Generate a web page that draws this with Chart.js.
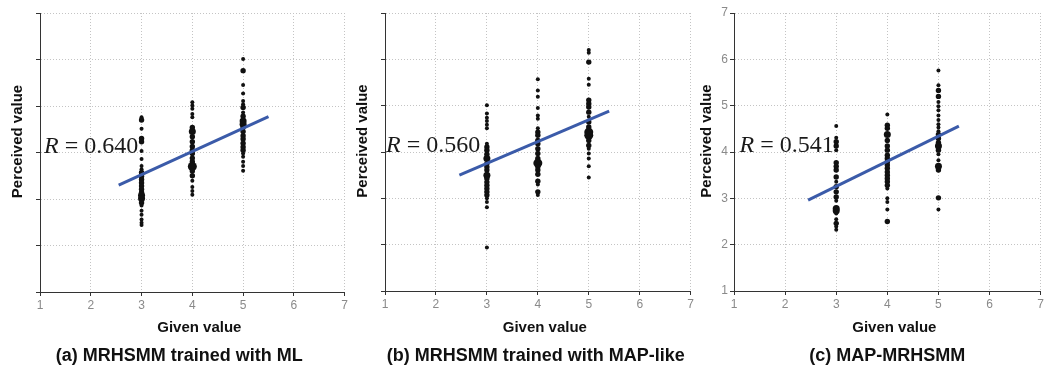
<!DOCTYPE html>
<html><head><meta charset="utf-8">
<script src="https://cdn.jsdelivr.net/npm/chart.js@4/dist/chart.umd.min.js"></script>
<style>
html,body{margin:0;padding:0;background:#fff;width:1046px;height:370px;overflow:hidden;}
canvas{position:absolute;top:0;}
</style></head><body>
<canvas id="ca" width="350" height="370" style="left:0px"></canvas>
<canvas id="cb" width="346" height="370" style="left:350px"></canvas>
<canvas id="cc" width="356" height="370" style="left:690px"></canvas>
<script>
// ---------- DATA ----------
const givenTicks = [1, 2, 3, 4, 5, 6, 7];
const perceivedTicks = [1, 2, 3, 4, 5, 6, 7];
const givenValues = [3, 4, 5];
const captions = ['(a) MRHSMM trained with ML', '(b) MRHSMM trained with MAP-like', '(c) MAP-MRHSMM'];
const rValues = ['0.640', '0.560', '0.541'];

// (a) MRHSMM trained with ML : perceived values and overlap counts for given = 3, 4, 5
const mlAt3 = [4.76,4.70,4.51,4.30,4.23,4.03,3.86,3.71,3.64,3.57,3.49,3.42,3.35,3.28,3.21,3.14,3.08,3.01,2.92,2.86,2.75,2.66,2.56,2.49,2.44];
const mlAt3N = [1,2,1,2,2,1,1,1,1,2,2,2,2,2,2,2,3,3,2,1,1,1,1,1,1];
const mlAt4 = [5.08,5.01,4.94,4.83,4.76,4.54,4.45,4.34,4.23,4.13,4.05,3.98,3.88,3.80,3.70,3.60,3.50,3.39,3.26,3.17,3.09];
const mlAt4N = [1,1,1,1,1,2,3,2,2,2,2,2,2,2,4,2,2,1,1,1,1];
const mlAt5 = [6.01,5.76,5.45,5.27,5.11,5.04,4.97,4.86,4.78,4.68,4.61,4.54,4.45,4.36,4.29,4.20,4.12,4.05,3.98,3.91,3.80,3.71,3.61];
const mlAt5N = [1,2,1,1,1,1,2,1,2,3,3,2,2,2,2,2,2,2,1,1,1,1,1];
const mlFit = [[2.55, 3.30], [5.50, 4.77]];

// (b) MRHSMM trained with MAP-like
const mapLikeAt3 = [5.01,4.83,4.74,4.67,4.59,4.51,4.18,4.11,4.04,3.95,3.86,3.75,3.68,3.61,3.50,3.43,3.35,3.28,3.21,3.14,3.07,3.00,2.92,2.81,1.94];
const mapLikeAt3N = [1,1,1,1,1,1,1,2,2,2,3,2,2,2,3,2,2,2,2,2,2,1,1,1,1];
const mapLikeAt4 = [5.57,5.33,5.19,4.95,4.79,4.72,4.51,4.43,4.36,4.25,4.18,4.07,3.97,3.86,3.76,3.68,3.61,3.52,3.37,3.30,3.14,3.07];
const mapLikeAt4N = [1,1,1,1,1,1,1,2,2,2,2,2,2,2,4,2,2,2,2,1,2,1];
const mapLikeAt5 = [6.20,6.14,5.94,5.58,5.45,5.12,5.04,4.97,4.86,4.76,4.65,4.54,4.43,4.36,4.25,4.14,4.07,3.97,3.86,3.69,3.45];
const mapLikeAt5N = [1,1,2,1,1,2,2,2,2,1,2,2,4,4,2,2,1,1,1,1,1];
const mapLikeFit = [[2.46, 3.50], [5.40, 4.88]];

// (c) MAP-MRHSMM
const mapAt3 = [4.56,4.31,4.22,4.13,4.04,3.77,3.69,3.61,3.46,3.36,3.25,3.14,3.03,2.95,2.78,2.73,2.67,2.55,2.46,2.39,2.32];
const mapAt3N = [1,1,2,2,1,2,2,2,2,1,2,2,2,1,3,3,1,1,2,1,1];
const mapAt4 = [4.81,4.58,4.51,4.38,4.25,4.13,4.04,3.93,3.86,3.79,3.72,3.65,3.57,3.50,3.43,3.36,3.28,3.21,3.00,2.92,2.76,2.50];
const mapAt4N = [1,2,2,3,2,2,2,2,2,2,2,2,2,2,2,2,2,1,1,1,1,2];
const mapAt5 = [5.76,5.44,5.33,5.20,5.08,4.99,4.90,4.79,4.69,4.60,4.53,4.45,4.38,4.29,4.20,4.13,4.04,3.95,3.82,3.69,3.61,3.01,2.76];
const mapAt5N = [1,1,2,2,1,1,1,1,1,1,1,1,2,2,2,3,2,1,1,3,2,2,1];
const mapFit = [[2.45, 2.96], [5.40, 4.56]];

// ---------- BUILD ----------
function column(g, vals, counts) { return vals.map((v, i) => ({x: g, y: v, n: counts[i]})); }
const panels = [
  {id: 'ca', pts: [column(3, mlAt3, mlAt3N), column(4, mlAt4, mlAt4N), column(5, mlAt5, mlAt5N)], fit: mlFit,
   r: rValues[0], caption: captions[0], layout: {yw: 40, xh: 78, pr: 4, showY: false, rAt: [1.08, 4], yGap: 22.5, capShift: -13}},
  {id: 'cb', pts: [column(3, mapLikeAt3, mapLikeAt3N), column(4, mapLikeAt4, mapLikeAt4N), column(5, mapLikeAt5, mapLikeAt5N)], fit: mapLikeFit,
   r: rValues[1], caption: captions[1], layout: {yw: 35, xh: 79, pr: 5, showY: false, rAt: [1.02, 4], yGap: 22.5, capShift: -2}},
  {id: 'cc', pts: [column(3, mapAt3, mapAt3N), column(4, mapAt4, mapAt4N), column(5, mapAt5, mapAt5N)], fit: mapFit,
   r: rValues[2], caption: captions[2], layout: {yw: 44, xh: 79, pr: 5, showY: true, rAt: [1.11, 4], yGap: 27, capShift: 0}}
];
const radiusByCount = [0, 2.0, 2.7, 3.5, 4.5];

const textPlugin = {
  id: 'panelText',
  afterDraw(chart, args, o) {
    const {ctx, chartArea: ca, scales: {x, y}} = chart;
    ctx.save();
    const px = x.getPixelForValue(o.rAt[0]), py = y.getPixelForValue(o.rAt[1]);
    ctx.fillStyle = '#1a1a1a';
    ctx.textAlign = 'left'; ctx.textBaseline = 'alphabetic';
    ctx.font = 'italic 24px "Liberation Serif"';
    ctx.fillText('R', px, py);
    const w = ctx.measureText('R').width;
    ctx.font = '24px "Liberation Serif"';
    ctx.fillText(' = ' + o.r, px + w, py);
    ctx.fillStyle = '#111';
    ctx.textAlign = 'center'; ctx.textBaseline = 'middle';
    ctx.font = 'bold 15px "Liberation Sans"';
    const cx = (ca.left + ca.right) / 2;
    ctx.fillText('Given value', cx + 7, 328);
    ctx.save();
    ctx.translate(ca.left - o.yGap, (ca.top + ca.bottom) / 2 - 11);
    ctx.rotate(-Math.PI / 2);
    ctx.fillText('Perceived value', 0, 0);
    ctx.restore();
    ctx.font = 'bold 18px "Liberation Sans"';
    ctx.fillText(o.caption, cx + o.capShift, 356);
    ctx.restore();
  }
};

function axis(ticksArr, showLabels, fitFn) {
  return {
    type: 'linear', min: 1, max: 7,
    afterBuildTicks: s => { s.ticks = ticksArr.map(v => ({value: v})); },
    afterFit: fitFn,
    grid: {color: '#c4c4c4', lineWidth: 1, drawTicks: true, tickLength: 4, tickColor: '#333', tickWidth: 1, tickBorderDash: []},
    border: {display: true, color: '#333', width: 1, dash: [1, 2]},
    ticks: {display: showLabels, color: '#8a8a8a', padding: 2, font: {family: '"Liberation Sans"', size: 12}}
  };
}

panels.forEach(p => {
  const L = p.layout;
  const scatterSets = p.pts.map(pts => ({
    type: 'scatter', data: pts, backgroundColor: '#111', borderWidth: 0,
    pointRadius: c => radiusByCount[c.raw.n], order: 2
  }));
  new Chart(document.getElementById(p.id), {
    data: {
      datasets: [
        {type: 'line', data: p.fit.map(([a, b]) => ({x: a, y: b})), borderColor: '#3b5ba9', borderWidth: 3,
         pointRadius: 0, fill: false, order: 1},
        ...scatterSets
      ]
    },
    options: {
      responsive: false, animation: false, devicePixelRatio: 1,
      layout: {padding: {left: 0, right: L.pr, top: 13, bottom: 0}},
      plugins: {legend: {display: false}, tooltip: {enabled: false},
        panelText: {rAt: L.rAt, r: p.r, caption: p.caption, yGap: L.yGap, capShift: L.capShift}},
      scales: {
        x: axis(givenTicks, true, s => { s.height = L.xh; }),
        y: axis(perceivedTicks, L.showY, s => { s.width = L.yw; })
      }
    },
    plugins: [textPlugin]
  });
});
</script>
</body></html>
